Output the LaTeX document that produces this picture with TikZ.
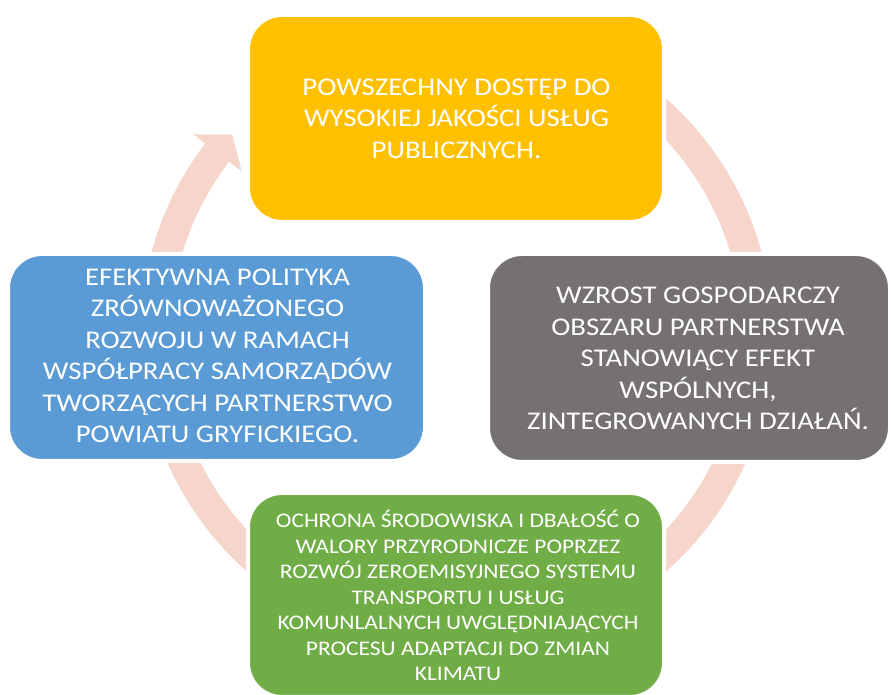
\documentclass[tikz,border=0pt]{standalone}
\usepackage{fontspec}
\setmainfont[FakeStretch=1.13]{Carlito}
\definecolor{cyyellow}{HTML}{FFC000}
\definecolor{cygray}{HTML}{767171}
\definecolor{cyblue}{HTML}{5B9BD5}
\definecolor{cygreen}{HTML}{70AD47}
\definecolor{cypink}{HTML}{F6D5CB}
\tikzset{
  cybox/.style={rectangle, rounded corners=34pt, draw=white, line width=4pt, inner sep=0pt},
  bigtxt/.style={text=white, align=center, inner sep=0pt, font=\fontsize{25.5}{31.5}\selectfont},
  smalltxt/.style={text=white, align=center, inner sep=0pt, font=\fontsize{20.8}{25.5}\selectfont},
}
\begin{document}
\begin{tikzpicture}[x=1pt,y=1pt]
\useasboundingbox (0,0) rectangle (891,695);
% circular arrow
\begin{scope}[shift={(456.5,360)}]
\fill[cypink] (125:316pt) arc[start angle=125, end angle=-217.3, radius=316pt]
  -- (-217.3:331pt) -- (-221.8:301pt) -- (-217.3:270pt) -- (-217.3:286pt)
  arc[start angle=-217.3, end angle=125, radius=286pt] -- cycle;
\end{scope}
% boxes
\begin{scope}
\clip (0,0) rectangle (891,695);
\node[cybox, fill=cyyellow, minimum width=416pt, minimum height=207pt] (top) at (456,576.5) {};
\node[cybox, fill=cyblue, minimum width=417pt, minimum height=207pt] (left) at (216.5,337.5) {};
\node[cybox, fill=cygray, minimum width=402pt, minimum height=208pt] (right) at (689,337) {};
\node[cybox, fill=cygreen, minimum width=416pt, minimum height=204pt] (bottom) at (456,100) {};
\end{scope}
% texts
\node[bigtxt] (toptext) at (456.5,576.5) {POWSZECHNY DOSTĘP DO\\WYSOKIEJ JAKOŚCI USŁUG\\PUBLICZNYCH.};
\node[bigtxt] (lefttext) at (217.5,339) {EFEKTYWNA POLITYKA\\ZRÓWNOWAŻONEGO\\ROZWOJU W RAMACH\\WSPÓŁPRACY SAMORZĄDÓW\\TWORZĄCYCH PARTNERSTWO\\POWIATU GRYFICKIEGO.};
\node[bigtxt] (righttext) at (698,336.5) {WZROST GOSPODARCZY\\OBSZARU PARTNERSTWA\\STANOWIĄCY EFEKT\\WSPÓLNYCH,\\ZINTEGROWANYCH DZIAŁAŃ.};
\node[smalltxt] (bottomtext) at (458,99.5) {OCHRONA ŚRODOWISKA I DBAŁOŚĆ O\\WALORY PRZYRODNICZE POPRZEZ\\ROZWÓJ ZEROEMISYJNEGO SYSTEMU\\TRANSPORTU I USŁUG\\KOMUNLALNYCH UWGLĘDNIAJĄCYCH\\PROCESU ADAPTACJI DO ZMIAN\\KLIMATU};
\end{tikzpicture}
\end{document}
